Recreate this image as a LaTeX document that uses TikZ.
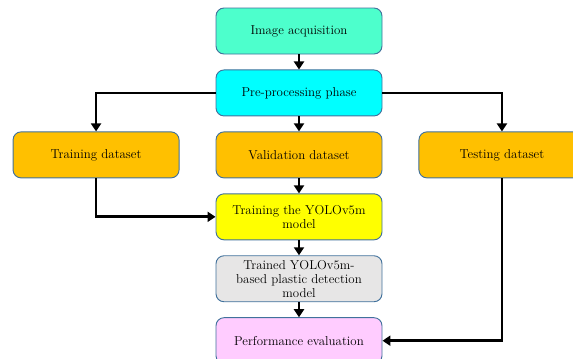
\documentclass[tikz,border=0pt]{standalone}
\usepackage[dvipsnames]{xcolor}
\usepackage{tikz}
\usetikzlibrary{positioning,arrows.meta}

\definecolor{acqcol}{HTML}{4DFFCC}
\definecolor{precol}{HTML}{00FFFF}
\definecolor{setcol}{HTML}{FFC000}
\definecolor{yolocol}{HTML}{FFFF00}
\definecolor{modelcol}{HTML}{E7E6E6}
\definecolor{perfcol}{HTML}{FFCCFF}
\definecolor{boxline}{HTML}{41719C}

\tikzset{
  box/.style={draw=boxline, line width=0.8pt, rounded corners=0.24cm,
    minimum width=4.98cm, minimum height=1.38cm, align=center,
    inner sep=2pt, font=\fontsize{11}{11.8}\selectfont},
  flow/.style={line width=2.4pt, -{Triangle[length=0.24cm, width=0.3cm]}}
}

\begin{document}
\begin{tikzpicture}[x=0.03cm, y=-0.03cm, node distance=0.45cm and 1.08cm]
		\clip (0,0) rectangle (573,358);
		% Definizione dei nodi
		\node[box, fill=acqcol] (acq) at (299,31) {Image acquisition};
		\node[box, fill=precol, below=of acq] (pre) {Pre-processing phase};
		\node[box, fill=setcol, below=of pre] (valset) {Validation dataset};
		\node[box, fill=setcol, left=of valset] (trainset) {Training dataset};
		\node[box, fill=setcol, right=of valset] (testset) {Testing dataset};
		\node[box, fill=yolocol, below=of valset] (yolo) {Training the YOLOv5m\\model};
		\node[box, fill=modelcol, below=of yolo] (model) {Trained YOLOv5m-\\based plastic detection\\model};
		\node[box, fill=perfcol, below=of model] (perf) {Performance evaluation};
		
		% Collegamenti
		\draw[flow] (acq) -- (pre);
		\draw[flow] (pre) -- (valset);
		\draw[flow] (pre.west) -| (trainset.north);
		\draw[flow] (pre.east) -| (testset.north);
		\draw[flow] (valset) -- (yolo);
		\draw[flow] (trainset.south) |- (yolo.west);
		\draw[flow] (yolo) -- (model);
		\draw[flow] (model) -- (perf);
		\draw[flow] (testset.south) |- (perf.east);
	\end{tikzpicture}
\end{document}
